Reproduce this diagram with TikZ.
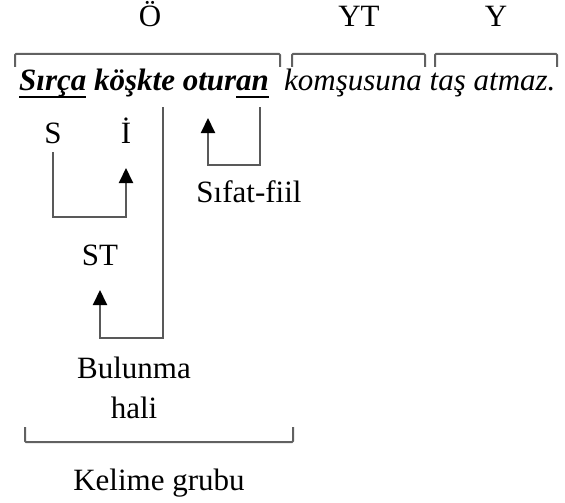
\documentclass[tikz,border=0pt]{standalone}
\usepackage{fontspec}
\setmainfont{Liberation Serif}
\usetikzlibrary{arrows.meta,calc}
\newcommand{\myul}[1]{\setbox0\hbox{#1}\rlap{\rule[-7.5pt]{\wd0}{2.2pt}}\box0\relax}
\begin{document}
\begin{tikzpicture}[x=1pt,y=-1pt,
  lab/.style={font=\fontsize{31}{36}\selectfont, inner sep=0pt, anchor=base},
  brk/.style={draw=black!62, line width=2pt, rounded corners=1pt},
  conn/.style={draw=black!65, line width=2pt},
  arr/.style={conn, -{Triangle[length=15pt,width=14pt,color=black]}}]
\useasboundingbox (0,0) rectangle (565,503);
% top labels
\node[lab] (O) at (150,27) {Ö};
\node[lab] (YT) at (359,27) {YT};
\node[lab] (Y) at (496,27) {Y};
% brackets
\draw[brk] (15,67) -- (15,54) -- (280,54) -- (280,67);
\draw[brk] (292,67) -- (292,54) -- (425,54) -- (425,67);
\draw[brk] (435,67) -- (435,54) -- (557,54) -- (557,67);
% sentence
\node[lab, anchor=base west, font=\fontsize{31}{36}\selectfont\bfseries\itshape] (s1) at (19,91) {\myul{Sırça} köşkte otur\myul{an}};
\node[lab, anchor=base west, font=\fontsize{31}{36}\selectfont\itshape] (s2) at (284,91) {komşusuna taş atmaz.};
% connector ends
\coordinate (kte) at (163,107);
\coordinate (an) at (260,107);
\coordinate (otur) at (208,118);
% labels
\node[lab] (S) at (53,143) {S};
\node[lab] (I) at (126,143) {İ};
\node[lab] (ST) at (100,265) {ST};
\node[lab] (SF) at (249,202) {Sıfat-fiil};
\node[lab] (BU) at (134,378) {Bulunma};
\node[lab] (HA) at (134,418) {hali};
\node[lab] (KG) at (159,490) {Kelime grubu};
% connectors
\draw[arr] ([yshift=-9pt]S.base) -- ++(0,65) -| ([yshift=-25pt]I.base);
\draw[arr] (an) -- ++(0,58) -| (otur);
\draw[arr] (kte) -- ++(0,231) -| ([yshift=-25pt]ST.base);
% bottom bracket
\draw[brk] (25,427) -- (25,442) -- (293,442) -- (293,427);
\end{tikzpicture}
\end{document}
